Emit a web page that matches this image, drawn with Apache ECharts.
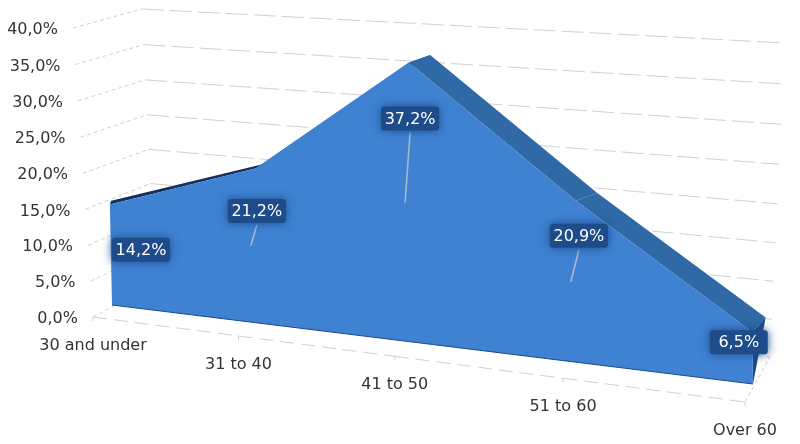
<!DOCTYPE html>
<html>
<head>
<meta charset="utf-8">
<style>
html, body { margin: 0; padding: 0; background: #fff; }
#chart { width: 800px; height: 444px; }
</style>
<script src="https://cdn.jsdelivr.net/npm/echarts@6/dist/echarts.min.js"></script>
</head>
<body>
<div id="chart"></div>
<script>
var categories = ['30 and under', '31 to 40', '41 to 50', '51 to 60', 'Over 60'];
var shares = [14.2, 21.2, 37.2, 20.9, 6.5];
var valueTicks = [0, 5, 10, 15, 20, 25, 30, 35, 40];

var W = 800, H = 444, lastCat = categories.length - 1, maxVal = 40;

// the picture is a 3D view: each plane is a quad [bottom left, bottom right, top right, top left]
var frontPlane = makePlane([[112, 305], [753, 384], [750, 64], [106, 21]]);
var backPlane = makePlane([[114, 306], [766, 367], [764, 60], [106, 8]]);
var axisPlane = makePlane([[93, 317], [745, 402], [730, 67], [73, 28]]);
var wallPlane = makePlane([[155, 284], [770, 357], [785, 43], [142, 9]]);

// label box centre relative to the middle of the area under the point
var labelShift = [[30, -5], [0, -35], [-1, -84], [2, -46], [-14, -16]];
var hasLeader = [false, true, true, true, false];

function makePlane(q) {
    var dx1 = q[1][0] - q[2][0], dx2 = q[3][0] - q[2][0], sx = q[0][0] - q[1][0] + q[2][0] - q[3][0];
    var dy1 = q[1][1] - q[2][1], dy2 = q[3][1] - q[2][1], sy = q[0][1] - q[1][1] + q[2][1] - q[3][1];
    var den = dx1 * dy2 - dx2 * dy1;
    var g = (sx * dy2 - dx2 * sy) / den, h = (dx1 * sy - sx * dy1) / den;
    return function (u, v) {
        var w = g * u + h * v + 1;
        return [
            ((q[1][0] - q[0][0] + g * q[1][0]) * u + (q[3][0] - q[0][0] + h * q[3][0]) * v + q[0][0]) / w,
            ((q[1][1] - q[0][1] + g * q[1][1]) * u + (q[3][1] - q[0][1] + h * q[3][1]) * v + q[0][1]) / w
        ];
    };
}

// category index + value -> axis pixel -> point on a plane
function pt(api, plane, cat, val) {
    var c = api.coord([cat, val]);
    return plane(c[0] / W, 1 - c[1] / H);
}

function fmt(v) {
    return v.toFixed(1).replace('.', ',') + '%';
}

function dashLine(a, b, dash) {
    return {
        type: 'line',
        shape: { x1: a[0], y1: a[1], x2: b[0], y2: b[1] },
        style: { stroke: '#d0d0d0', lineWidth: 1, lineDash: dash }
    };
}

function renderWalls(params, api) {
    var v = api.value(1);
    var front = pt(api, axisPlane, 0, v);
    var corner = pt(api, wallPlane, 0, v);
    var right = pt(api, wallPlane, lastCat, v);
    return {
        type: 'group',
        children: [
            dashLine(front, corner, [4, 3]),
            dashLine(corner, right, [22, 6]),
            {
                type: 'text',
                style: {
                    x: front[0] - 15, y: front[1] + 2, text: fmt(v),
                    align: 'right', verticalAlign: 'middle',
                    font: '16px "DejaVu Sans"', fill: '#333333'
                }
            }
        ]
    };
}

function renderFloor(params, api) {
    var i = api.value(0);
    var p = pt(api, axisPlane, i, 0);
    var kids = [
        dashLine(p, [p[0], p[1] + 4], null),
        {
            type: 'text',
            style: {
                x: p[0], y: p[1] + 29, text: categories[i],
                align: 'center', verticalAlign: 'middle',
                font: '16px "DejaVu Sans"', fill: '#333333'
            }
        }
    ];
    if (i < lastCat) {
        kids.push(dashLine(p, pt(api, axisPlane, i + 1, 0), [14, 7]));
    } else {
        kids.push(dashLine(p, pt(api, wallPlane, lastCat, 0), [4, 3]));
    }
    return { type: 'group', children: kids };
}

function renderTop(params, api) {
    var i = api.value(0);
    var colors = ['#14305c', '#3f82d2', '#2f69a6', '#2f69a6'];
    return {
        type: 'polygon',
        shape: {
            points: [
                pt(api, frontPlane, i, shares[i]),
                pt(api, frontPlane, i + 1, shares[i + 1]),
                pt(api, backPlane, i + 1, shares[i + 1]),
                pt(api, backPlane, i, shares[i])
            ]
        },
        style: { fill: colors[i] }
    };
}

function renderFront(params, api) {
    var points = [pt(api, frontPlane, 0, 0)];
    var bottom = [pt(api, frontPlane, 0, 0), pt(api, frontPlane, lastCat, 0)];
    for (var i = 0; i <= lastCat; i++) {
        points.push(pt(api, frontPlane, i, shares[i]));
    }
    points.push(pt(api, frontPlane, lastCat, 0));
    return {
        type: 'group',
        children: [
            {
                type: 'polygon',
                shape: {
                    points: [
                        pt(api, backPlane, lastCat, shares[lastCat]),
                        pt(api, frontPlane, lastCat, 0),
                        pt(api, frontPlane, lastCat, shares[lastCat])
                    ]
                },
                style: { fill: '#1d4a85' }
            },
            { type: 'polygon', shape: { points: points }, style: { fill: '#3f82d2' } },
            { type: 'polyline', shape: { points: bottom }, style: { stroke: '#1d4a85', lineWidth: 1, fill: null } }
        ]
    };
}

function renderLabel(params, api) {
    var i = api.value(0);
    var anchor = pt(api, frontPlane, i, api.value(1) / 2);
    var x = anchor[0] + labelShift[i][0], y = anchor[1] + labelShift[i][1];
    var kids = [];
    if (hasLeader[i]) {
        kids.push({
            type: 'line',
            shape: { x1: x, y1: y + 14, x2: anchor[0] - 6, y2: anchor[1] },
            style: { stroke: '#a9bccf', lineWidth: 1.5 }
        });
    }
    kids.push({
        type: 'rect',
        shape: { x: x - 29, y: y - 12, width: 58, height: 24, r: 3 },
        style: { fill: '#1e4c8a', shadowBlur: 10, shadowColor: '#1e4c8a' }
    });
    kids.push({
        type: 'text',
        style: {
            x: x, y: y + 1, text: fmt(api.value(1)),
            align: 'center', verticalAlign: 'middle',
            font: '16px "DejaVu Sans"', fill: '#ffffff'
        }
    });
    return { type: 'group', children: kids };
}

var catIndex = categories.map(function (c, i) { return i; });

var myChart = echarts.init(document.getElementById('chart'));
myChart.setOption({
    animation: false,
    backgroundColor: '#ffffff',
    tooltip: { show: false },
    // axes only supply the scales, the view is projected from them
    grid: { left: 0, right: 0, top: 0, bottom: 0 },
    xAxis: { type: 'category', data: categories, boundaryGap: false, show: false },
    yAxis: { type: 'value', min: 0, max: maxVal, interval: 5, show: false },
    series: [
        {
            type: 'custom', name: 'walls', z: 1, silent: true, clip: false,
            data: valueTicks.map(function (v) { return [0, v]; }),
            renderItem: renderWalls
        },
        {
            type: 'custom', name: 'floor', z: 2, silent: true, clip: false,
            data: catIndex.map(function (i) { return [i, 0]; }),
            renderItem: renderFloor
        },
        {
            type: 'custom', name: 'top', z: 3, silent: true, clip: false,
            data: catIndex.slice(0, lastCat).map(function (i) { return [i, shares[i]]; }),
            renderItem: renderTop
        },
        {
            type: 'custom', name: 'front', z: 4, silent: true, clip: false,
            data: [[0, shares[0]]],
            renderItem: renderFront
        },
        {
            type: 'custom', name: 'labels', z: 5, silent: true, clip: false,
            data: shares.map(function (v, i) { return [i, v]; }),
            renderItem: renderLabel
        }
    ]
});
</script>
</body>
</html>
